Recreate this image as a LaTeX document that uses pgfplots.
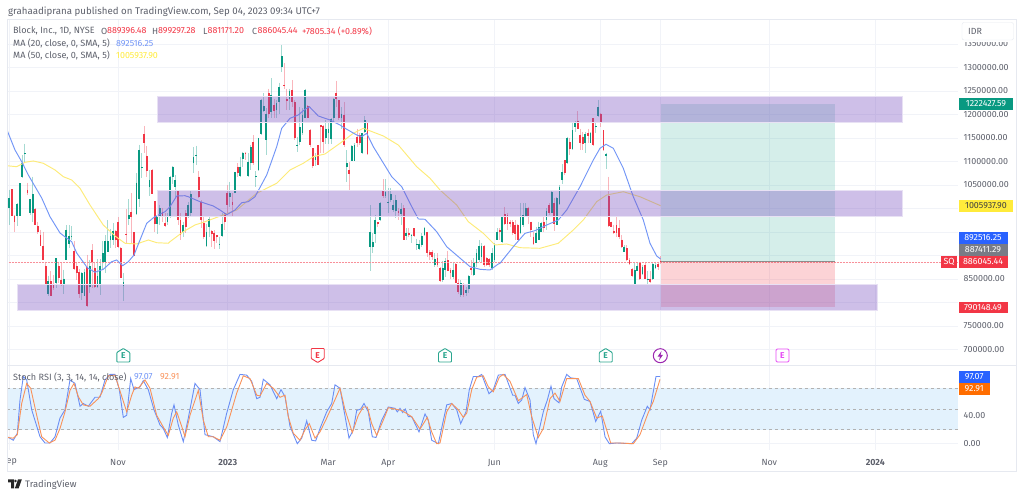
\documentclass[border=0pt]{standalone}
\usepackage{pgfplots}
\usepackage{pgfplotstable}
\usepackage{fontspec}
\pgfplotsset{compat=1.18}
\setmainfont{Fira Sans}
\definecolor{tvtext}{HTML}{5D606B}
\definecolor{tvgrid}{HTML}{F1F3F8}
\definecolor{tvframe}{HTML}{E6E9F0}
\definecolor{upc}{HTML}{089981}
\definecolor{downc}{HTML}{F23645}
\definecolor{ma20}{HTML}{7396F6}
\definecolor{ma50}{HTML}{FDEB78}
\definecolor{rsib}{HTML}{6A8EF5}
\definecolor{rsio}{HTML}{F9925A}
\definecolor{zone}{HTML}{7E57C2}
\definecolor{band}{HTML}{E3F2FD}
\definecolor{lblblue}{HTML}{2962FF}
\definecolor{lblgray}{HTML}{787B86}
\definecolor{lblorange}{HTML}{FF6D00}
\definecolor{lblyellow}{HTML}{FFEB3B}
\definecolor{earn}{HTML}{2BA68F}
\definecolor{earnp}{HTML}{E64CF5}
\definecolor{boltc}{HTML}{9C27B0}
\pgfplotstableread{
i t b h l
0 1022 1001 1040 965
3 1010 985 1011 963
4 1054 985 1054 983
5 1097 1067 1114 1065
6 1117 1116 1138 1097
8 1020 990 1020 987
9 1031 990 1068 972
15 846 817 857 813
18 894 841 894 831
21 851 840 870 819
22 955 891 965 891
23 941 925 965 916
24 942 939 963 933
28 863 820 864 806
29 864 814 871 813
31 877 834 891 820
34 857 834 892 831
35 877 838 892 816
36 905 887 930 870
37 930 887 944 863
38 930 907 975 907
39 942 932 956 916
40 953 932 969 923
44 843 836 863 804
46 987 977 1020 965
49 1055 989 1075 987
50 1125 1021 1136 1004
51 1088 1087 1118 1065
54 1061 1045 1082 1027
57 983 968 1004 946
58 1001 983 1008 965
61 983 972 990 965
62 1068 982 1070 979
63 1089 1068 1090 1053
64 1060 1046 1071 1025
67 965 951 972 940
69 1007 982 1014 979
70 1031 990 1039 982
71 1109 1097 1130 1076
72 1114 1112 1134 1092
76 951 920 968 917
77 977 961 982 940
81 925 924 940 913
82 968 941 990 940
85 1032 1025 1057 1004
87 1078 1034 1078 1032
89 1089 1069 1110 1068
90 1119 1106 1121 1089
92 1099 1069 1117 1068
93 1130 1096 1135 1082
95 1070 1068 1080 1045
96 1149 1082 1151 1080
97 1231 1158 1232 1156
98 1218 1208 1246 1206
99 1202 1146 1213 1114
101 1241 1206 1277 1192
103 1224 1209 1231 1192
104 1258 1227 1268 1200
105 1324 1300 1348 1291
108 1250 1232 1255 1209
111 1136 1134 1153 1121
112 1173 1141 1216 1135
113 1199 1160 1213 1156
114 1253 1192 1255 1192
118 1109 1103 1117 1090
122 1170 1149 1188 1138
123 1170 1160 1185 1138
124 1190 1148 1192 1137
125 1234 1192 1236 1185
128 1202 1192 1216 1170
130 1096 1089 1124 1057
132 1133 1102 1135 1100
133 1135 1102 1139 1100
136 1160 1117 1161 1116
137 1188 1163 1197 1160
139 949 919 1007 867
140 929 917 947 905
141 975 945 986 926
143 1012 975 1014 974
145 1036 1027 1062 1022
146 1014 1012 1043 990
147 1031 1019 1043 1014
148 1007 997 1018 993
149 1017 995 1029 979
151 998 988 1012 965
153 947 941 958 932
155 944 941 946 926
157 924 923 936 912
158 924 913 933 912
159 942 922 947 919
160 958 944 961 942
164 893 879 905 876
167 873 848 889 844
168 889 869 894 855
171 869 855 883 851
174 841 816 848 812
176 827 820 834 814
177 856 828 858 820
179 883 858 894 856
180 905 883 913 876
181 920 890 933 887
182 920 897 926 883
186 905 873 915 869
187 922 890 926 887
188 951 934 958 933
190 983 928 984 926
197 984 947 1012 946
198 986 965 1011 961
199 1002 983 1011 981
203 947 926 961 926
204 961 934 972 933
205 970 951 972 951
207 995 975 1000 954
209 1036 991 1039 990
211 1022 965 1025 965
212 1045 1010 1050 1007
213 1078 1061 1095 1053
215 1149 1096 1153 1095
217 1166 1126 1181 1124
218 1181 1173 1187 1163
222 1158 1139 1163 1117
224 1160 1140 1163 1139
226 1175 1174 1181 1160
227 1215 1197 1231 1195
230 1116 1112 1119 1085
237 919 908 922 907
241 869 839 885 837
242 878 866 883 866
244 876 860 880 858
246 851 848 866 837
248 882 849 885 848
249 880 874 887 872
}\greencandles
\pgfplotstableread{
i t b h l
1 1041 985 1041 983
2 985 972 987 949
7 1040 1033 1055 1029
10 999 965 1001 965
11 963 951 972 946
12 944 921 955 921
13 921 890 951 890
14 878 839 887 838
16 846 814 867 813
17 840 831 859 827
19 877 852 885 841
20 848 838 885 836
25 909 871 930 870
26 877 863 887 848
27 864 819 871 809
30 875 792 902 790
32 912 887 924 831
33 874 834 884 831
41 953 933 955 916
42 972 918 982 916
43 916 852 918 852
45 946 943 999 926
47 993 981 1033 926
48 949 898 949 898
52 1159 1139 1176 1118
53 1112 1080 1132 1068
55 1082 1031 1084 1031
56 1015 968 1015 949
59 992 982 1001 972
60 970 962 990 960
65 1039 975 1039 965
66 975 944 990 933
68 990 961 997 947
73 1068 1025 1080 1022
74 1014 975 1017 958
75 970 940 982 936
78 952 945 954 919
79 948 931 954 913
80 943 940 943 926
83 990 972 991 954
84 1032 1007 1050 990
86 1014 1007 1032 982
88 1089 1076 1096 1068
91 1117 1115 1121 1103
94 1141 1096 1156 1092
100 1245 1202 1255 1192
102 1220 1207 1234 1192
106 1263 1260 1309 1255
107 1232 1229 1255 1209
109 1253 1227 1273 1216
110 1227 1151 1231 1146
115 1218 1193 1220 1192
116 1168 1135 1169 1131
117 1128 1090 1128 1087
119 1135 1092 1135 1092
120 1177 1174 1177 1117
121 1176 1142 1177 1117
126 1245 1232 1272 1216
127 1231 1192 1231 1188
129 1199 1135 1227 1131
131 1082 1073 1099 1039
134 1153 1139 1170 1131
135 1156 1139 1160 1135
138 1183 1115 1183 1114
142 971 966 972 961
144 1037 1027 1062 1022
150 995 991 1000 975
152 1000 933 1007 932
154 947 943 958 939
156 958 942 958 940
161 949 905 951 897
162 907 901 912 890
163 907 896 912 890
165 894 880 905 876
166 874 846 876 844
169 890 866 910 866
170 869 862 873 851
172 882 842 883 841
173 842 823 851 818
175 837 815 841 812
178 873 869 890 858
183 920 880 922 876
184 894 880 897 878
185 892 880 894 876
189 954 951 958 933
191 988 966 1004 965
192 986 968 990 954
193 972 966 975 961
194 971 947 975 944
195 965 946 975 933
196 965 934 968 933
200 1000 984 1004 968
201 972 954 972 940
202 940 924 951 922
206 972 959 984 951
208 1007 991 1011 986
210 1011 968 1022 953
214 1103 1076 1103 1071
216 1142 1126 1149 1114
219 1187 1170 1207 1170
220 1156 1140 1170 1124
221 1153 1137 1163 1124
223 1161 1154 1170 1140
225 1192 1135 1192 1133
228 1202 1185 1204 1173
229 1166 1124 1166 1123
231 1027 963 1068 960
232 972 961 972 960
233 953 947 965 946
234 965 947 983 940
235 958 940 975 936
236 934 919 944 915
238 915 890 922 889
239 890 882 894 880
240 871 856 873 855
243 883 851 885 848
245 880 851 883 849
247 849 844 866 842
250 882 876 887 869
251 889 886 899 881
}\redcandles
\newcommand{\candles}[2]{%
  \addplot[draw=none,forget plot,error bars/.cd,y dir=minus,y explicit,error mark=none,
    error bar style={draw=#2,draw opacity=0.36,line width=0.95pt}]
    table[x expr=9.3+2.595*\thisrow{i},y=h,y error minus expr=\thisrow{h}-\thisrow{l}]{#1};
  \addplot[draw=none,forget plot,error bars/.cd,y dir=minus,y explicit,error mark=none,
    error bar style={draw=#2,line width=1.8pt}]
    table[x expr=9.3+2.595*\thisrow{i},y=t,y error minus expr=\thisrow{t}-\thisrow{b}]{#1};
}
\begin{document}
\begin{tikzpicture}
\path[use as bounding box] (0,0) rectangle (1024pt,497pt);
\begin{axis}[
  at={(7pt,132pt)},anchor=south west,scale only axis,width=951pt,height=346pt,
  xmin=7,xmax=958,ymin=667,ymax=1403.2,
  axis line style={draw=none},tick style={draw=none},
  grid=major,major grid style={draw=tvgrid,line width=0.8pt},
  xtick={9.3,118,227.7,328.3,388.3,494.3,600.3,660.3,769.3,875.3},xticklabels={},
  ytick={700,750,800,850,900,950,1000,1050,1100,1150,1200,1250,1300,1350},
  yticklabels={700000.00,750000.00,{},850000.00,{},{},{},1050000.00,1100000.00,1150000.00,1200000.00,1250000.00,1300000.00,1350000.00},
  yticklabel pos=right,
  yticklabel style={anchor=west,inner sep=0pt,xshift=5.5pt,text=tvtext,font=\fontsize{8.9}{10}\selectfont},
]
\candles{\greencandles}{upc}
\candles{\redcandles}{downc}
% last price line
\addplot[downc!55,densely dotted,line width=0.5pt,forget plot] coordinates {(7,886) (958,886)};
% moving averages
\addplot[ma50,line width=0.95pt,forget plot] coordinates {
(7,1091)(16.7,1088.9)(25,1098.3)(33.3,1101.1)(43.3,1096.2)(55,1082)(63.3,1067.7)(71.7,1060.6)(80,1043)(90,1007.4)(103.3,964.9)(115,941.5)(125,926)(136.7,924.5)(148.3,933)(156.7,927.2)(168.3,926)(170,929.4)(183.3,950.6)(195,964.9)(205,971.9)(223.3,986.2)(236.7,996.8)(256.7,1032.3)(276.7,1053.6)(290,1081.9)(303.3,1096.2)(313.3,1110.2)(325,1116)(340,1138.7)(353.3,1160)(363.3,1170.6)(383.3,1154.3)(398.3,1135.1)(416.7,1088.9)(430,1064.3)(440,1039.4)(456.7,1007.4)(468.3,971.9)(483.3,947.2)(495,922.3)(506.7,924.5)(520,916.6)(540,915.3)(558.3,926)(573.3,954.3)(583.3,975.5)(596.7,1014.5)(606.7,1028.7)(623.3,1035.7)(640,1025)(660.6,1005.9)};
\addplot[ma20,line width=0.95pt,forget plot] coordinates {
(7,1167)(15,1124.5)(21.7,1099.6)(28.3,1071.3)(41.7,1022.3)(50,982.5)(60,947.9)(65,939.7)(71.7,929.4)(76.7,905.3)(87.3,874)(95,864.3)(103.3,870.6)(111.7,886.8)(116.7,890.4)(122.7,878.3)(128.3,886.8)(134,901)(140,933)(146.7,968.5)(154,981.3)(165,993.2)(170,1003.8)(176.7,1026.6)(185,1027.2)(188.3,1025)(200,1014.5)(213.3,1005.3)(220,996.8)(226.7,986.8)(235,996.8)(241.7,1012.3)(248.3,1014.5)(255,1025)(266.7,1071.3)(276.7,1131.5)(281.7,1170.6)(290,1191.9)(298.3,1199)(305,1211)(309.3,1216.6)(318.3,1196.8)(330,1188.3)(340,1177.7)(343.3,1172.8)(356.7,1156.4)(361.7,1152.8)(366.7,1160)(373.3,1131.5)(391.7,1067.7)(401.7,1046.4)(410,1011)(418.3,977.7)(425,977)(436.7,950.6)(446.7,918.7)(470,876.2)(480,870.6)(490,869.1)(498.3,881.9)(500,883.4)(513.3,918.7)(525,947.2)(535,952.8)(546.7,964.9)(558.3,975.5)(566.7,996.8)(580,1046.4)(593.3,1103.2)(600,1128.1)(606,1136.6)(613.3,1128.1)(623.3,1085.5)(633.3,1025)(643.3,975.5)(650,925.9)(656.7,898.9)(660.6,892.5)};
% long position
\addplot[draw=none,fill=upc!85!white,fill opacity=0.2,forget plot] coordinates {(660.6,887.4)(660.6,1222.43)(835,1222.43)(835,887.4)} -- cycle;
\addplot[draw=none,fill=downc,fill opacity=0.22,forget plot] coordinates {(660.6,790.15)(660.6,887.4)(835,887.4)(835,790.15)} -- cycle;
\addplot[color=black!45,line width=0.7pt,forget plot] coordinates {(660.6,887.4)(835,887.4)};
% zones
\addplot[draw=zone!18,fill=zone,fill opacity=0.38,line width=0.4pt,forget plot] coordinates {(157,1184)(157,1238)(902,1238)(902,1184)} -- cycle;
\addplot[draw=zone!18,fill=zone,fill opacity=0.38,line width=0.4pt,forget plot] coordinates {(157,984)(157,1038)(902,1038)(902,984)} -- cycle;
\addplot[draw=zone!18,fill=zone,fill opacity=0.38,line width=0.4pt,forget plot] coordinates {(17.3,784)(17.3,838)(877.5,838)(877.5,784)} -- cycle;
\end{axis}
\begin{axis}[
  at={(7pt,47pt)},anchor=south west,scale only axis,width=951pt,height=85pt,
  xmin=7,xmax=958,ymin=-9.1,ymax=113.6,
  axis line style={draw=none},tick style={draw=none},
  grid=major,major grid style={draw=tvgrid,line width=0.8pt},
  xtick={9.3,118,227.7,328.3,388.3,494.3,600.3,660.3,769.3,875.3},
  xticklabels={\hspace{5pt}ep,Nov,\textbf{2023},Mar,Apr,Jun,Aug,Sep,Nov,\textbf{2024}},
  xticklabel style={text=tvtext,inner sep=0pt,yshift=-9pt,font=\fontsize{8.9}{10}\selectfont},
  ytick={0,40},yticklabels={0.00,40.00},yticklabel pos=right,
  yticklabel style={anchor=west,inner sep=0pt,xshift=5.5pt,text=tvtext,font=\fontsize{8.9}{10}\selectfont},
]
\addplot[draw=none,fill=band,forget plot] coordinates {(7,20)(7,80)(958,80)(958,20)} -- cycle;
\addplot[black!30,line width=0.7pt,dash pattern=on 3pt off 3pt,forget plot] coordinates {(7,80)(958,80)};
\addplot[black!30,line width=0.7pt,dash pattern=on 3pt off 3pt,forget plot] coordinates {(7,50)(958,50)};
\addplot[black!30,line width=0.7pt,dash pattern=on 3pt off 3pt,forget plot] coordinates {(7,20)(958,20)};
\addplot[rsib,line width=0.9pt,forget plot] coordinates {
(7.3,10)(13.3,5)(17.3,15)(20,63)(23.3,97)(26.7,92)(31.7,49)(40,10)(45,1)(50,1)(55,10)(60,37)(65,49)(70,92)(75,87)(80,54)(83.3,58)(88.3,54)(95,67)(100,67)(105,92)(110,100)(115,100)(119.3,78)(123.3,38)(126.7,41)(130.7,94)(134,78)(140,82)(143.3,91)(148.3,78)(154,49)(160,27)(163.3,22)(167.3,9)(171.7,44)(174,56)(178.3,27)(183.3,3)(188.3,37)(195,87)(200,78)(205,13)(213.3,10)(220,3)(226.7,44)(233.3,78)(240,100)(246.7,99)(251.7,90)(256.7,65)(260,67)(263.3,93)(270,85)(276.7,65)(281,78)(285,68)(290,25)(297.3,0)(301.7,8)(306.7,33)(311.7,5)(315.7,4)(320,22)(326.7,46)(331.7,58)(335,85)(340,80)(349,8)(353.3,20)(356.7,48)(360.7,50)(364,58)(368.3,46)(372.3,10)(376,9)(381.7,34)(388.3,53)(395,51)(397.3,46)(400,51)(402.7,45)(405.3,50)(408.3,39)(411.7,39)(419,17)(425,43)(428.3,34)(431.7,5)(438.3,0)(446.7,56)(451.7,58)(456.7,49)(460.7,29)(466,46)(469.3,78)(473.3,97)(478.3,97)(481.7,100)(489,72)(493.3,78)(498.3,99)(505,100)(512.7,70)(515,70)(518.3,58)(521.7,63)(525,81)(530,63)(533.3,13)(536,0)(543.3,46)(547.3,63)(551,83)(554,65)(559,59)(561.7,82)(566.7,100)(570.7,95)(576.7,94)(584.3,64)(590,61)(595.7,32)(600.7,47)(605,10)(609.3,0)(616.7,1)(631.7,0)(636.7,8)(641.7,34)(647.3,54)(650,49)(656,97)(660,97.07)};
\addplot[rsio,line width=0.9pt,forget plot] coordinates {
(7.3,9)(13.3,8)(17.3,13)(21.7,58)(26.7,87)(30.7,80)(36.7,41)(41.7,10)(49.3,1)(55,5)(60,22)(65,46)(70,77)(74,87)(78.3,68)(83.3,56)(90,54)(98.3,65)(101.7,73)(108.3,98)(115,99)(120.7,73)(126.7,46)(131.7,70)(135,82)(138.3,80)(145,92)(150,80)(156.7,41)(163.3,24)(168.3,12)(173.3,37)(176.7,46)(181.7,25)(185,10)(190,41)(198.3,77)(203.3,34)(208.3,10)(213.3,10)(220,5)(226.7,24)(236.7,73)(243.3,98)(250,94)(256.7,70)(260,69)(266.7,87)(273.3,80)(280,67)(285,70)(288.3,39)(293.3,15)(300,5)(305,20)(309.3,29)(315,8)(320,17)(326.7,37)(333.3,58)(340,80)(345,49)(352.3,16)(358.3,41)(363.3,53)(367.3,53)(371.7,29)(376.7,12)(383.3,34)(388.3,52)(401.7,48)(411.7,39)(420,21)(427.3,38)(431.7,17)(436.7,0)(440,1)(446.7,46)(451.7,58)(458.3,49)(463.3,38)(466.7,44)(471.7,78)(476.7,96)(483.3,98)(488.3,82)(493.3,75)(499.3,96)(503.3,100)(510,90)(518.3,62)(526.7,71)(531.7,39)(538.3,9)(543.3,22)(550,65)(555,73)(560,61)(566.7,94)(578.3,94)(585,70)(590,61)(596.7,37)(602.3,40)(610.7,1)(620,1)(633.3,0)(640,13)(648.3,45)(653.3,61)(660,92.91)};
\end{axis}
% overlay in image pixels
\begin{scope}[shift={(0pt,497pt)},x=1pt,y=-1pt,
  every node/.style={inner sep=0pt,font=\fontsize{8.9}{10}\selectfont}]
\draw[tvframe,line width=0.9pt] (7,19) rectangle (1016,471);
\draw[tvframe,line width=0.9pt] (7,365) -- (1016,365);
% header text
\node[anchor=west,text=tvtext,font=\fontsize{9.7}{11}\selectfont] at (8,11.5) {grahaadiprana published on TradingView.com, Sep 04, 2023 09:34 UTC+7};
\node[anchor=west,text=tvtext,font=\fontsize{9.1}{10}\selectfont] at (13,31) {Block, Inc., 1D, NYSE};
\node[anchor=west,text=tvtext] at (101,31) {O};
\node[anchor=west,text=downc] at (107,31) {889396.48};
\node[anchor=west,text=tvtext] at (152,31) {H};
\node[anchor=west,text=downc] at (158,31) {899297.28};
\node[anchor=west,text=tvtext] at (203,31) {L};
\node[anchor=west,text=downc] at (207.5,31) {881171.20};
\node[anchor=west,text=tvtext] at (252,31) {C};
\node[anchor=west,text=downc] at (257.5,31) {886045.44};
\node[anchor=west,text=downc] at (302,31) {+7805.34 (+0.89\%)};
\node[anchor=west,text=tvtext,font=\fontsize{9.1}{10}\selectfont] at (13,43.5) {MA (20, close, 0, SMA, 5)};
\node[anchor=west,text=ma20] at (116,43.5) {892516.25};
\node[anchor=west,text=tvtext,font=\fontsize{9.1}{10}\selectfont] at (13,55.5) {MA (50, close, 0, SMA, 5)};
\node[anchor=west,text=lblyellow] at (116,55.5) {1005937.90};
\node[anchor=west,text=tvtext,font=\fontsize{9.1}{10}\selectfont] at (13,377) {Stoch RSI (3, 3, 14, 14, close)};
\node[anchor=west,text=ma20] at (134,377) {97.07};
\node[anchor=west,text=rsio] at (160,377) {92.91};
% IDR box
\fill[white] (960,20) rectangle (1015,42);
\draw[tvframe,fill=white,rounded corners=2pt] (962,22.5) rectangle (1013.5,40);
\node[anchor=west,text=tvtext] at (968,31.5) {IDR};
% price labels
\fill[upc] (958.5,98) rectangle (1013,110);
\node[text=white] at (986,104) {1222427.59};
\fill[lblyellow] (958.5,200) rectangle (1013,211.7);
\node[text=black!75] at (986,205.8) {1005937.90};
\fill[lblblue] (958.5,231.7) rectangle (1007.5,243.8);
\fill[lblgray] (958.5,243.8) rectangle (1007.5,256);
\fill[downc] (958.5,256) rectangle (1007.5,268);
\fill[downc] (941,256) rectangle (957,268);
\fill[downc] (958.5,301.7) rectangle (1007.5,313);
\node[text=white] at (983,237.8) {892516.25};
\node[text=white] at (983,250) {887411.29};
\node[text=white] at (983,262) {886045.44};
\node[text=white] at (949,262) {SQ};
\node[text=white] at (983,307.4) {790148.49};
\fill[lblblue] (958.7,370.7) rectangle (989.7,383);
\fill[lblorange] (958.7,383) rectangle (989.7,394.7);
\node[text=white] at (974.2,376.9) {97.07};
\node[text=white] at (974.2,388.9) {92.91};
% earnings icons
\foreach \X in {123.3,445,605.7}{
  \draw[earn,line width=0.9pt,fill=white,rounded corners=0.8pt]
    (\X-6.5,362) -- (\X+6.5,362) -- (\X+6.5,352.5) -- (\X,348.5) -- (\X-6.5,352.5) -- cycle;
  \node[text=earn,font=\fontsize{8.5}{9}\bfseries\selectfont] at (\X,355.8) {E};
}
\draw[downc,line width=0.9pt,fill=white,rounded corners=0.8pt]
  (317.7-6.5,348.5) -- (317.7+6.5,348.5) -- (317.7+6.5,358.5) -- (317.7,362.5) -- (317.7-6.5,358.5) -- cycle;
\node[text=downc,font=\fontsize{8.5}{9}\bfseries\selectfont] at (317.7,355.2) {E};
\draw[earnp,line width=0.9pt,fill=white,rounded corners=1.2pt] (776,349) rectangle (789,362);
\node[text=earnp,font=\fontsize{8.5}{9}\bfseries\selectfont] at (782.3,355.6) {E};
\draw[boltc,line width=1pt,fill=white] (660.3,355.7) circle (7);
\fill[boltc] (661.5,351) -- (657.6,356.6) -- (660,356.6) -- (659,360.4) -- (663,354.8) -- (660.6,354.8) -- cycle;
% logo
\fill[black!85] (8,479.5) -- (14,479.5) -- (14,488.5) -- (11,488.5) -- (11,482.5) -- (8,482.5) -- cycle;
\fill[black!85] (15.5,481) circle (1.4);
\fill[black!85] (18,479.5) -- (21.8,479.5) -- (18.6,488.5) -- (14.8,488.5) -- cycle;
\node[anchor=west,text=tvtext,font=\fontsize{9.4}{11}\selectfont] at (25,484.5) {TradingView};
\end{scope}
\end{tikzpicture}
\end{document}
